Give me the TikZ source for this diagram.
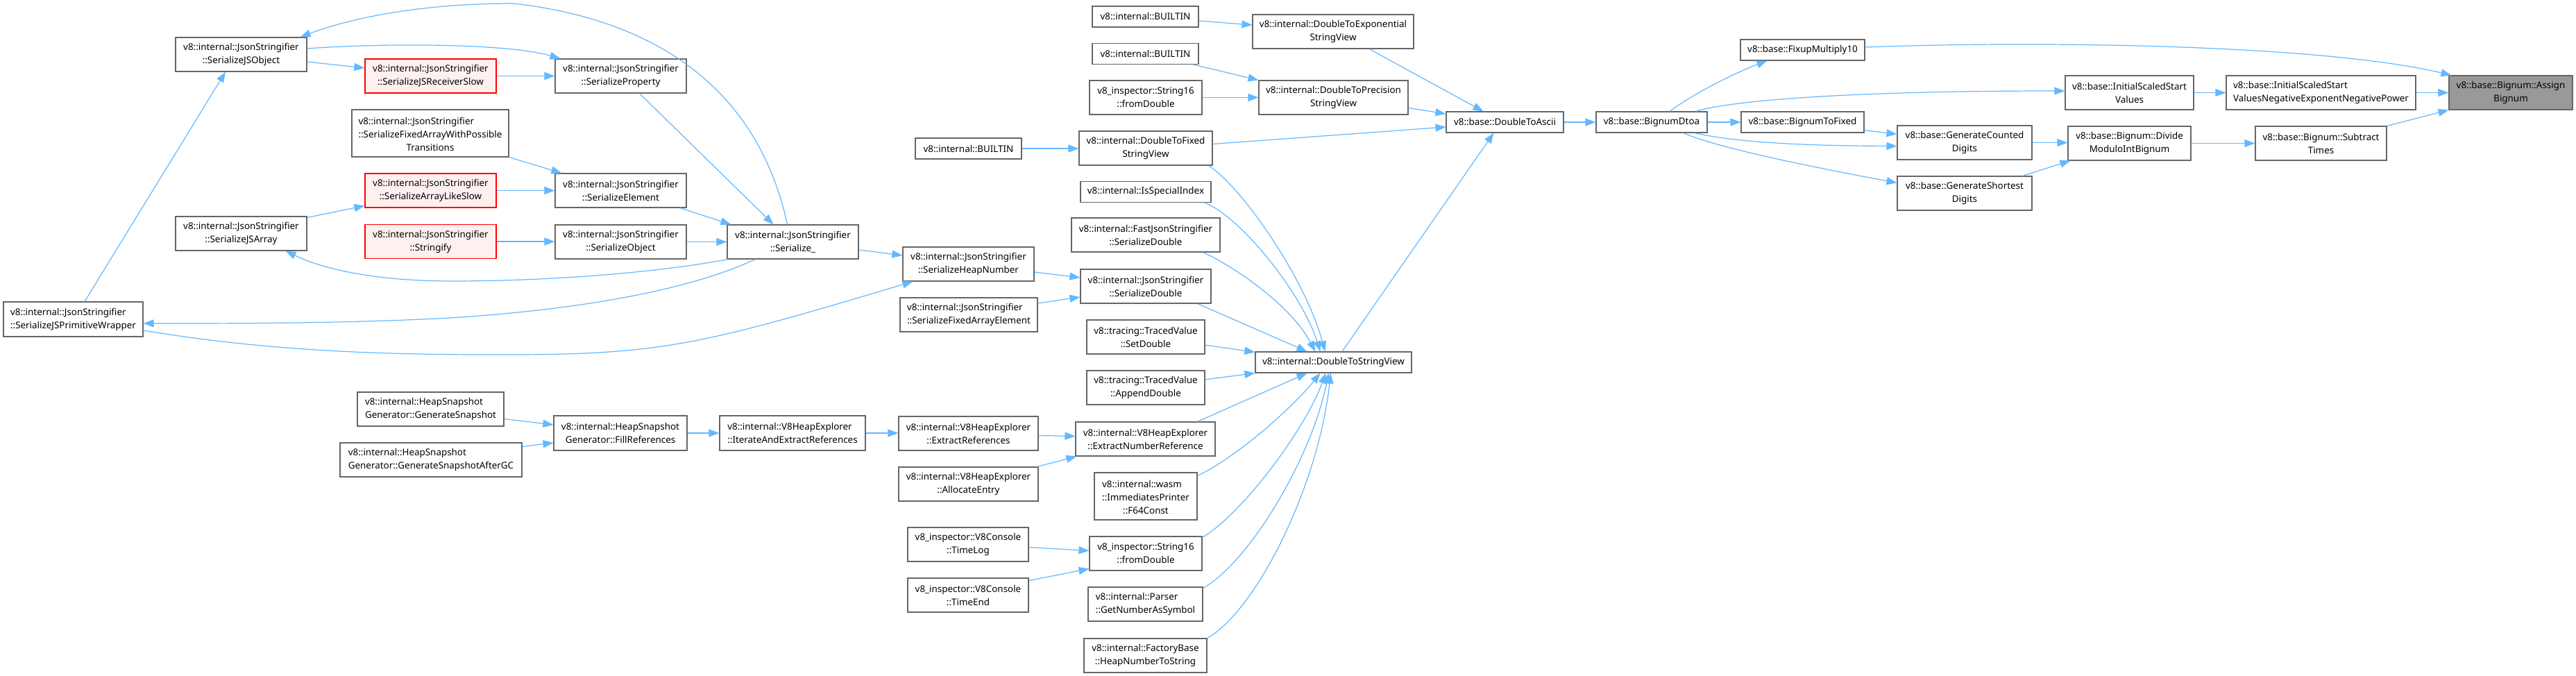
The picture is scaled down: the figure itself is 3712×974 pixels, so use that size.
\documentclass[tikz,border=0pt]{standalone}
\usepackage{fontspec}
\setmainfont{Noto Sans}
\usetikzlibrary{arrows.meta,calc}
\definecolor{edgeblue}{HTML}{63B8FF}
\definecolor{bordergray}{HTML}{666666}
\definecolor{redfill}{HTML}{FFF0F0}
\definecolor{mainfill}{HTML}{999999}
\newcommand\nodefont{\fontsize{13.4}{19}\selectfont}
\begin{document}
\begin{tikzpicture}[x=1pt,y=-1pt,
  nbox/.style={draw=bordergray, fill=white, line width=1.1pt, minimum height=49pt, inner sep=0pt, align=center, font=\nodefont},
  lbox/.style={nbox, align=left},
  rbox/.style={nbox, draw=red, fill=redfill},
  mbox/.style={nbox, fill=mainfill},
  sbox/.style={nbox, minimum height=30pt},
  conn/.style={draw=edgeblue, line width=1.2pt, -{Triangle[length=15pt,width=11pt]}},
]
\useasboundingbox[fill=white] (0,0) rectangle (3712,974);

% ---------- nodes ----------
\node[nbox, minimum width=189pt] (sjo) at (347.5,78.5) {v8::internal::JsonStringifier\\::SerializeJSObject};
\node[rbox, minimum width=189pt] (recv) at (620.5,109.5) {v8::internal::JsonStringifier\\::SerializeJSReceiverSlow};
\node[nbox, minimum width=226pt, minimum height=68pt] (fawpt) at (620,192) {\begin{tabular}[b]{@{}l@{}}v8::internal::JsonStringifier\\::SerializeFixedArrayWithPossible\end{tabular}\\Transitions};
\node[rbox, minimum width=189pt] (arrl) at (620.5,274.5) {v8::internal::JsonStringifier\\::SerializeArrayLikeSlow};
\node[rbox, minimum width=189pt] (strf) at (620.5,348) {v8::internal::JsonStringifier\\::Stringify};
\node[nbox, minimum width=189pt] (sjsa) at (347.5,336.5) {v8::internal::JsonStringifier\\::SerializeJSArray};
\node[lbox, minimum width=201pt, minimum height=50pt] (sjpw) at (105.5,460) {v8::internal::JsonStringifier\\::SerializeJSPrimitiveWrapper};
\node[nbox, minimum width=189pt] (sprop) at (894.5,109.5) {v8::internal::JsonStringifier\\::SerializeProperty};
\node[nbox, minimum width=189pt] (selem) at (894.5,274.5) {v8::internal::JsonStringifier\\::SerializeElement};
\node[nbox, minimum width=189pt] (sobj) at (894.5,348.5) {v8::internal::JsonStringifier\\::SerializeObject};
\node[nbox, minimum width=189pt] (ser) at (1142.5,348.5) {v8::internal::JsonStringifier\\::Serialize\_};
\node[nbox, minimum width=189pt] (shn) at (1395.5,380.5) {v8::internal::JsonStringifier\\::SerializeHeapNumber};
\node[lbox, minimum width=198pt] (sfae) at (1396,453.5) {v8::internal::JsonStringifier\\::SerializeFixedArrayElement};
\node[lbox, minimum width=211pt] (gs) at (620.5,589.5) {v8::internal::HeapSnapshot\\Generator::GenerateSnapshot};
\node[lbox, minimum width=262pt] (gsgc) at (621,662.5) {v8::internal::HeapSnapshot\\Generator::GenerateSnapshotAfterGC};
\node[nbox, minimum width=192pt, minimum height=50pt] (fr) at (894,624) {v8::internal::HeapSnapshot\\Generator::FillReferences};
\node[lbox, minimum width=210pt, minimum height=50pt] (iaer) at (1142,624) {v8::internal::V8HeapExplorer\\::IterateAndExtractReferences};
\node[nbox, minimum width=201pt] (extr) at (1395.5,624.5) {v8::internal::V8HeapExplorer\\::ExtractReferences};
\node[nbox, minimum width=201pt] (alloc) at (1395.5,697.5) {v8::internal::V8HeapExplorer\\::AllocateEntry};
\node[sbox, minimum width=153pt] (b1) at (1650.5,24) {v8::internal::BUILTIN};
\node[sbox, minimum width=153pt] (b2) at (1650.5,77.5) {v8::internal::BUILTIN};
\node[nbox, minimum width=162pt] (s16a) at (1651,140.5) {v8\_inspector::String16\\::fromDouble};
\node[sbox, minimum width=153pt] (b3) at (1395.5,214) {v8::internal::BUILTIN};
\node[nbox, minimum width=192pt] (dtf) at (1651,213.5) {v8::internal::DoubleToFixed\\StringView};
\node[sbox, minimum width=188pt] (isi) at (1651,276.5) {v8::internal::IsSpecialIndex};
\node[nbox, minimum width=214pt] (fjs) at (1651,338.5) {v8::internal::FastJsonStringifier\\::SerializeDouble};
\node[nbox, minimum width=188pt] (jsd) at (1651,412.5) {v8::internal::JsonStringifier\\::SerializeDouble};
\node[nbox, minimum width=170pt] (setd) at (1651,485.5) {v8::tracing::TracedValue\\::SetDouble};
\node[nbox, minimum width=170pt] (appd) at (1651,558.5) {v8::tracing::TracedValue\\::AppendDouble};
\node[nbox, minimum width=201pt] (enr) at (1650.5,632.5) {v8::internal::V8HeapExplorer\\::ExtractNumberReference};
\node[nbox, minimum width=148pt, minimum height=68pt] (f64) at (1651,715) {\begin{tabular}[b]{@{}l@{}}v8::internal::wasm\\::ImmediatesPrinter\end{tabular}\\::F64Const};
\node[nbox, minimum width=174pt] (tlog) at (1395,784.5) {v8\_inspector::V8Console\\::TimeLog};
\node[nbox, minimum width=162pt] (s16b) at (1651,797.5) {v8\_inspector::String16\\::fromDouble};
\node[nbox, minimum width=174pt] (tend) at (1395,857.5) {v8\_inspector::V8Console\\::TimeEnd};
\node[lbox, minimum width=165pt] (parser) at (1650.5,870.5) {v8::internal::Parser\\::GetNumberAsSymbol};
\node[nbox, minimum width=177pt] (fbase) at (1650.5,944.5) {v8::internal::FactoryBase\\::HeapNumberToString};
\node[nbox, minimum width=232pt] (dte) at (1921,45.5) {v8::internal::DoubleToExponential\\StringView};
\node[nbox, minimum width=215pt] (dtp) at (1921.5,140.5) {v8::internal::DoubleToPrecision\\StringView};
\node[sbox, minimum width=225pt] (dtsv) at (1921.5,522) {v8::internal::DoubleToStringView};
\node[sbox, minimum width=169pt] (dta) at (2168.5,176) {v8::base::DoubleToAscii};
\node[sbox, minimum width=160pt] (bdtoa) at (2380,176) {v8::base::BignumDtoa};
\node[sbox, minimum width=179pt] (fm10) at (2597.5,72) {v8::base::FixupMultiply10};
\node[sbox, minimum width=177pt] (bfix) at (2597.5,176) {v8::base::BignumToFixed};
\node[nbox, minimum width=185pt] (iss) at (3068.5,133.5) {v8::base::InitialScaledStart\\Values};
\node[nbox, minimum width=194pt] (gcd) at (2831,205.5) {v8::base::GenerateCounted\\Digits};
\node[nbox, minimum width=194pt] (gsd) at (2831,278.5) {v8::base::GenerateShortest\\Digits};
\node[nbox, minimum width=177pt] (dmib) at (3068.5,206.5) {v8::base::Bignum::Divide\\ModuloIntBignum};
\node[lbox, minimum width=273pt] (negp) at (3344.5,133.5) {v8::base::InitialScaledStart\\ValuesNegativeExponentNegativePower};
\node[nbox, minimum width=189pt] (subt) at (3344.5,206.5) {v8::base::Bignum::Subtract\\Times};
\node[mbox, minimum width=178pt] (assign) at (3618,133.5) {v8::base::Bignum::Assign\\Bignum};

% ---------- connectors: right part ----------
\draw[conn] ($(fm10.east)+(0,-4)$) .. controls (2950,58) and (3350,65) .. ($(assign.north west)+(4,0)$);
\draw[conn] (iss.east) -- (iss.east -| negp.west);
\draw[conn] (negp.east) -- (negp.east -| assign.west);
\draw[conn] (subt.north east) -- (assign.south west);
\draw[conn] (dmib.east) -- (dmib.east -| subt.west);
\draw[conn] (gcd.east) -- (gcd.east -| dmib.west);
\draw[conn] ($(gsd.north east)+(-14,0)$) -- ($(dmib.south west)+(4,0)$);
\draw[conn] ($(bfix.south east)+(0,-4)$) -- ($(gcd.west)+(0,-12)$);
\draw[conn] ($(bdtoa.south east)+(-19,0)$) .. controls (2510,207) and (2620,210) .. ($(gcd.west)+(0,5)$);
\draw[conn] ($(bdtoa.south east)+(-35,0)$) .. controls (2480,215) and (2620,242) .. ($(gsd.west)+(0,-15)$);
\draw[conn] (bdtoa.east) -- (bdtoa.east -| bfix.west);
\draw[conn] ($(bdtoa.north)+(26,0)$) .. controls (2440,135) and (2500,105) .. ($(fm10.south west)+(39,0)$);
\draw[conn] ($(bdtoa.north east)+(-17,0)$) .. controls (2490,146) and (2650,131) .. ($(iss.west)+(0,-2.5)$);
\draw[conn] (dta.east) -- (dta.east -| bdtoa.west);
\draw[conn] ($(dte.south)+(52,0)$) -- ($(dta.north)+(-31,0)$);
\draw[conn] ($(dtp.east)+(0,15)$) -- ($(dta.west)+(0,-12)$);
\draw[conn] ($(dtf.east)+(0,-6)$) -- ($(dta.west)+(0,7)$);
\draw[conn] ($(dtsv.north)+(12.5,0)$) -- ($(dta.south)+(-16,0)$);

% ---------- connectors: middle ----------
\draw[conn] ($(b1.east)+(0,6)$) -- ($(dte.west)+(0,-9.5)$);
\draw[conn] ($(b2.south east)+(-8,0)$) -- (dtp.north west);
\draw[conn] (s16a.east) -- (s16a.east -| dtp.west);
\draw[conn] (b3.east) -- (b3.east -| dtf.west);
\draw[conn] ($(dtf.south east)+(-6,0)$) .. controls (1790,270) and (1880,400) .. ($(dtsv.north)+(-12,0)$);
\draw[conn] ($(isi.south east)+(-10,0)$) .. controls (1785,310) and (1875,420) .. ($(dtsv.north)+(-19,0)$);
\draw[conn] ($(fjs.south east)+(-25,0)$) .. controls (1780,385) and (1860,440) .. ($(dtsv.north)+(-26,0)$);
\draw[conn] ($(jsd.south east)+(-20,0)$) -- ($(dtsv.north)+(-38,0)$);
\draw[conn] ($(setd.east)+(0,11.5)$) -- ($(dtsv.north west)+(0,1)$);
\draw[conn] ($(appd.east)+(0,-11.5)$) -- (dtsv.south west);
\draw[conn] ($(enr.north east)+(-26,0)$) -- ($(dtsv.south)+(-38,0)$);
\draw[conn] ($(f64.north east)+(0,5)$) .. controls (1780,660) and (1860,590) .. ($(dtsv.south)+(-19,0)$);
\draw[conn] ($(s16b.north east)+(0,2)$) .. controls (1790,740) and (1880,620) .. ($(dtsv.south)+(-11,0)$);
\draw[conn] ($(parser.north east)+(0,2)$) .. controls (1800,810) and (1890,660) .. ($(dtsv.south)+(-7,0)$);
\draw[conn] (fbase.north east) .. controls (1810,880) and (1900,700) .. ($(dtsv.south)+(-4,0)$);
\draw[conn] ($(tlog.east)+(0,4)$) -- ($(s16b.west)+(0,-4)$);
\draw[conn] ($(tend.north east)+(0,4)$) -- ($(s16b.south west)+(0,-3)$);
\draw[conn] ($(extr.east)+(0,3)$) -- ($(enr.west)+(0,-4)$);
\draw[conn] ($(alloc.north east)+(-2,0)$) -- ($(enr.south west)+(2,0)$);
\draw[conn] (iaer.east) -- (iaer.east -| extr.west);
\draw[conn] (fr.east) -- (fr.east -| iaer.west);
\draw[conn] ($(gs.south east)+(0,-11)$) -- ($(fr.west)+(0,-12)$);
\draw[conn] ($(gsgc.north east)+(0,6)$) -- ($(fr.west)+(0,14)$);
\draw[conn] ($(shn.east)+(0,11.5)$) -- ($(jsd.west)+(0,-12.5)$);
\draw[conn] ($(sfae.east)+(0,-16.5)$) -- ($(jsd.west)+(0,15.5)$);

% ---------- connectors: left part ----------
\draw[conn] ($(ser.east)+(0,11.5)$) -- ($(shn.west)+(0,-12.5)$);
\draw[conn] ($(sjpw.east)+(0,16)$) .. controls (350,500) and (500,511) .. (700,511) .. controls (950,512) and (1000,500) .. ($(shn.south west)+(15,0)$);
\draw[conn] ($(ser.south west)+(41,0)$) .. controls (1000,415) and (850,445) .. (650,458) .. controls (500,466) and (350,466) .. ($(sjpw.east)+(0,6)$);
\draw[conn] ($(ser.south west)+(2,0)$) .. controls (950,392) and (800,405) .. (650,405) .. controls (550,405) and (470,390) .. ($(sjsa.south east)+(-31,0)$);
\draw[conn] ($(ser.north)+(-8,0)$) .. controls (1095,140) and (960,30) .. (740,5) .. controls (600,5) and (500,28) .. ($(sjo.north east)+(-10,0)$);
\draw[conn] ($(sjo.east)+(0,-8.5)$) .. controls (550,62) and (730,62) .. ($(sprop.north west)+(8,0)$);
\draw[conn] ($(sjo.east)+(0,10.5)$) -- ($(recv.west)+(0,-11.5)$);
\draw[conn] (recv.east) -- (recv.east -| sprop.west);
\draw[conn] ($(sprop.south)+(27,0)$) -- ($(ser.north)+(-28,0)$);
\draw[conn] (fawpt.south east) -- ($(selem.north west)+(10,0)$);
\draw[conn] (arrl.east) -- (arrl.east -| selem.west);
\draw[conn] ($(selem.south east)+(-10,0)$) -- ($(ser.north west)+(6,0)$);
\draw[conn] (strf.east) -- (strf.east -| sobj.west);
\draw[conn] (sobj.east) -- (sobj.east -| ser.west);
\draw[conn] ($(sjsa.north east)+(0,2)$) -- ($(arrl.south west)+(0,-3)$);
\draw[conn] ($(sjpw.north)+(16.5,0)$) -- ($(sjo.south)+(-22.5,0)$);
\end{tikzpicture}
\end{document}
